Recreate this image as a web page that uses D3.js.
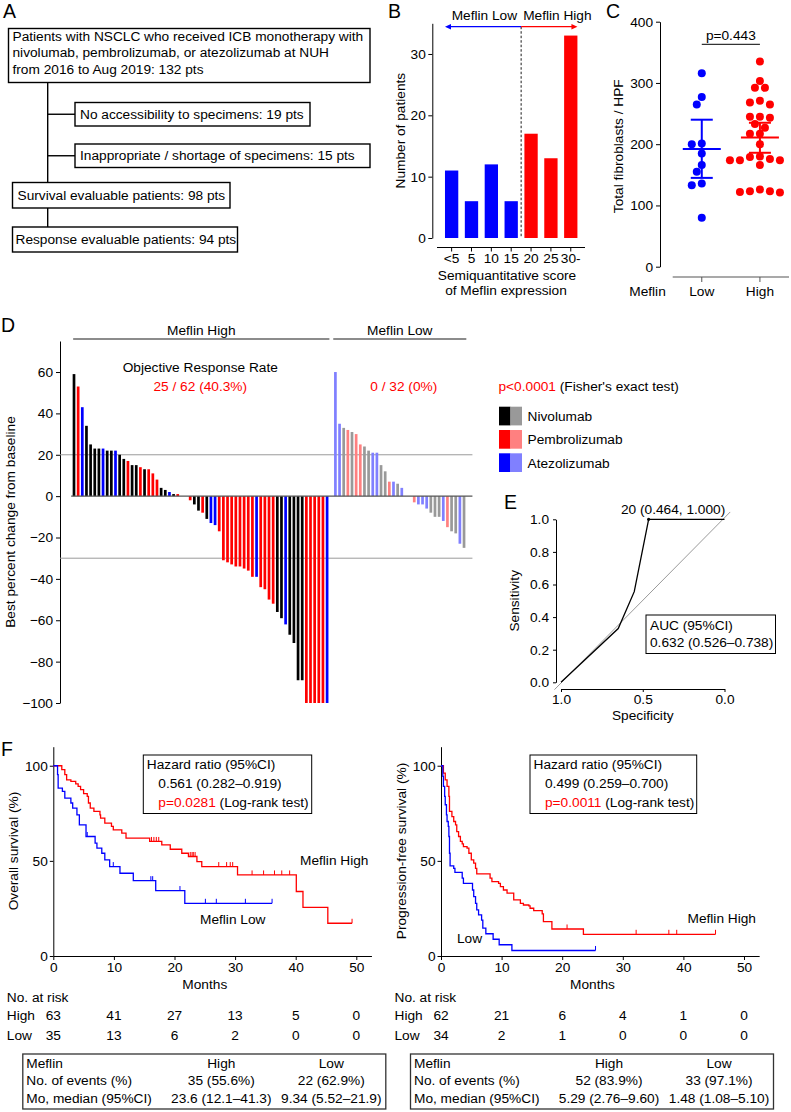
<!DOCTYPE html>
<html>
<head>
<meta charset="utf-8">
<script src="https://cdn.jsdelivr.net/npm/d3@7/dist/d3.min.js"></script>
<style>
 html, body { margin:0; padding:0; background:#fff; }
 svg { display:block; font-family:"Liberation Sans", Arial, Helvetica, sans-serif; }
</style>
</head>
<body>
<svg id="fig" width="791" height="1112" xmlns="http://www.w3.org/2000/svg"></svg>
<script>
// ================= DATA =================
// Panel A – flow chart
const flowMain = ["Patients with NSCLC who received ICB monotherapy with",
                  "nivolumab, pembrolizumab, or atezolizumab at NUH",
                  "from 2016 to Aug 2019: 132 pts"];
const flowExcluded = ["No accessibility to specimens: 19 pts",
                      "Inappropriate / shortage of specimens: 15 pts"];
const flowEvaluable = ["Survival evaluable patients: 98 pts",
                       "Response evaluable patients: 94 pts"];

// Panel B – score histogram
const scoreLabels = ["<5", "5", "10", "15", "20", "25", "30-"];
const scoreCounts = [11, 6, 12, 6, 17, 13, 33];
const scoreGroups = ["Low", "Low", "Low", "Low", "High", "High", "High"];
const bTicks = [0, 10, 20, 30];

// Panel C – fibroblasts per HPF
const fibroGroups = ["Low", "High"];
const fibroLow = [316, 277, 265, 201, 200, 185, 166, 155, 136, 133, 80];
const fibroHigh = [335, 303, 292, 292, 271, 268, 265, 245, 243, 245, 227, 233, 217, 217, 200,
                   180, 179, 174, 174, 174, 176, 166, 126, 123, 121, 122, 123];
const fibroMean = [192, 211];
const fibroLower = [145, 186];
const fibroUpper = [240, 235];
const cTicks = [0, 100, 200, 300, 400];

// Panel D – waterfall (N = nivolumab, P = pembrolizumab, A = atezolizumab)
const waterHigh = [59, 53, 43, 34, 25, 23, 23, 23, 22, 22, 22, 20, 18, 17, 15, 15, 14, 13, 13, 11,
                   8, 4, 3, 2, 1, 1, 0, 0, -2, -4, -7, -8, -11, -13, -14, -17, -31, -32, -33, -34,
                   -34, -35, -36, -39, -39, -44, -45, -50, -52, -56, -59, -62, -67, -71, -89, -89,
                   -100, -100, -100, -100, -100, -100];
const waterHighDrug = ["N","P","A","N","N","N","N","A","N","N","A","N","N","P","N","N","P","N","P","P",
                       "P","N","N","A","N","P","N","N","P","N","N","P","N","A","A","P","P","P","P","P",
                       "P","P","P","P","A","P","P","P","P","N","N","A","N","N","N","N",
                       "P","P","P","P","P","A"];
const waterLow = [60, 35, 33, 32, 31, 30, 25, 24, 22, 21, 21, 15, 12, 7, 7, 6, 4, 0, 0, -3,
                  -4, -4, -6, -8, -10, -10, -12, -15, -17, -18, -23, -25];
const waterLowDrug = ["A","A","N","P","N","P","P","N","N","A","A","N","N","P","A","N","A","N","N","P",
                      "A","A","A","N","N","N","A","P","N","N","A","N"];
const dTicks = [60, 40, 20, 0, -20, -40, -60, -80, -100];
const drugNames = ["Nivolumab", "Pembrolizumab", "Atezolizumab"];
const drugKeys = ["N", "P", "A"];

// Panel E – ROC
const rocSpec = [1.0, 0.650, 0.552, 0.464, 0.0];
const rocSens = [0.0, 0.330, 0.556, 1.000, 1.0];
const eYTicks = [0, 0.2, 0.4, 0.6, 0.8, 1.0];
const eXTicks = [1.0, 0.5, 0.0];

// Panel F – Kaplan–Meier [month, survival %]
const osHighSteps = [[1.4,97.9],[1.9,95.3],[2.2,92.6],[2.9,91.8],[3.7,90.5],[4.1,89.1],[4.5,87.4],
  [5.0,85.3],[5.6,83.9],[5.8,80.4],[6.1,77.7],[6.7,76.0],[7.7,74.2],[7.8,72.5],[8.5,69.8],[9.6,68.1],
  [9.9,66.3],[11.3,64.6],[12.0,61.9],[15.9,60.2],[17.9,58.4],[19.3,56.1],[21.2,54.0],[22.3,52.3],
  [23.7,49.6],[24.5,47.0],[30.4,42.6],[40.1,33.9],[41.2,25.6],[45.3,17.2]];
const osHighEnd = 49.3;
const osHighCensor = [16.2,16.6,17.0,17.4,22.6,22.9,23.1,23.4,27.3,28.6,29.2,29.6,32.8,34.7,36.5,37.7,39.0,49.3];
const osLowSteps = [[0.7,95.3],[0.8,88.2],[1.5,86.5],[1.9,83.0],[2.9,80.4],[3.2,77.7],[3.9,74.2],
  [4.3,68.9],[5.4,62.8],[6.9,59.3],[7.2,56.7],[8.0,54.0],[8.5,50.5],[9.3,47.0],[11.0,43.5],[13.2,39.6],
  [16.9,34.4],[21.7,27.7]];
const osLowEnd = 36.1;
const osLowCensor = [5.6, 9.9, 16.1, 16.4, 20.9, 25.1, 26.9, 31.7, 36.1];

const pfsHighSteps = [[0.4,96.1],[0.7,92.6],[1.0,89.1],[1.3,83.9],[1.4,76.0],[1.8,73.3],[2.1,70.7],
  [2.4,68.9],[2.6,65.4],[2.9,62.8],[3.2,60.2],[3.5,58.9],[3.7,57.5],[4.3,56.7],[4.6,54.0],[5.0,50.5],
  [5.4,48.8],[5.7,46.1],[5.9,43.2],[8.1,40.9],[8.4,39.1],[9.5,38.2],[9.8,36.5],[10.3,34.7],[10.9,33.0],
  [12.0,29.5],[13.1,27.7],[13.6,26.8],[14.5,26.3],[14.7,25.1],[15.3,23.9],[16.7,22.1],[16.9,18.1],
  [18.3,14.2],[23.5,11.4]];
const pfsHighEnd = 45.3;
const pfsHighCensor = [20.8, 32.2, 37.6, 38.9, 45.3];
const pfsLowSteps = [[0.3,94.4],[0.4,89.1],[0.6,83.9],[0.7,79.5],[0.9,74.2],[1.0,70.7],[1.2,68.1],
  [1.3,62.8],[1.4,54.0],[1.5,47.4],[2.1,46.1],[2.3,43.9],[3.5,40.9],[3.7,38.2],[5.2,34.7],[5.4,31.2],
  [5.7,27.7],[5.9,24.2],[6.2,21.6],[6.7,18.9],[6.9,14.6],[7.4,11.7],[8.6,8.8],[9.6,5.9],[11.7,2.9]];
const pfsLowEnd = 25.5;
const pfsLowCensor = [25.5];

const fXTicks = [0, 10, 20, 30, 40, 50];
const fYTicks = [0, 50, 100];
const riskMonths = [0, 10, 20, 30, 40, 50];
const osRiskHigh = [63, 41, 27, 13, 5, 0];
const osRiskLow = [35, 13, 6, 2, 0, 0];
const pfsRiskHigh = [62, 21, 6, 4, 1, 0];
const pfsRiskLow = [34, 2, 1, 0, 0, 0];

const osHR = ["Hazard ratio (95%CI)", "0.561 (0.282–0.919)", "p=0.0281", " (Log-rank test)"];
const pfsHR = ["Hazard ratio (95%CI)", "0.499 (0.259–0.700)", "p=0.0011", " (Log-rank test)"];
const osTableHead = ["Meflin", "High", "Low"];
const osTableEvents = ["No. of events (%)", "35 (55.6%)", "22 (62.9%)"];
const osTableMedian = ["Mo, median (95%CI)", "23.6 (12.1–41.3)", "9.34 (5.52–21.9)"];
const pfsTableHead = ["Meflin", "High", "Low"];
const pfsTableEvents = ["No. of events (%)", "52 (83.9%)", "33 (97.1%)"];
const pfsTableMedian = ["Mo, median (95%CI)", "5.29 (2.76–9.60)", "1.48 (1.08–5.10)"];

// ================= DRAW =================
const svg = d3.select("#fig");
const FS = 13.7;
const RED = "#ff0000", BLUE = "#0000ff";

function label(g, x, y, s, o = {}) {
  const t = g.append("text").attr("x", x).attr("y", y)
    .attr("font-size", o.size || FS).attr("text-anchor", o.anchor || "start")
    .attr("fill", o.fill || "#000").text(s);
  if (o.rotate) t.attr("transform", `rotate(-90 ${x} ${y})`);
  return t;
}
function styleAxis(g) {
  g.attr("font-size", FS).attr("font-family", null);
  g.selectAll("text").attr("fill", "#000");
  g.selectAll("line,path").attr("stroke", "#000").attr("stroke-width", 1);
  return g;
}
function hline(g, x1, x2, y, stroke, w) {
  return g.append("line").attr("x1", x1).attr("x2", x2).attr("y1", y).attr("y2", y)
    .attr("stroke", stroke).attr("stroke-width", w);
}
function vline(g, x, y1, y2, stroke, w) {
  return g.append("line").attr("x1", x).attr("x2", x).attr("y1", y1).attr("y2", y2)
    .attr("stroke", stroke).attr("stroke-width", w);
}

// ---------- Panel A ----------
const gA = svg.append("g");
label(gA, 3, 18, "A", {size: 19.5});
const aBoxes = [
  {x: 8.5, y: 28.5, w: 361.5, h: 54, tx: 12.5, ty: [41.3, 57.4, 73.6], lines: flowMain},
  {x: 75, y: 102.5, w: 235, h: 23.5, tx: 80, ty: [118.8], lines: [flowExcluded[0]]},
  {x: 75, y: 144, w: 295, h: 23.5, tx: 80, ty: [160.3], lines: [flowExcluded[1]]},
  {x: 12.5, y: 182.5, w: 217.5, h: 25.5, tx: 17.5, ty: [199.9], lines: [flowEvaluable[0]]},
  {x: 12.5, y: 227, w: 225, h: 25, tx: 15.5, ty: [244.2], lines: [flowEvaluable[1]]}
];
aBoxes.forEach(b => {
  gA.append("rect").attr("x", b.x).attr("y", b.y).attr("width", b.w).attr("height", b.h)
    .attr("fill", "none").attr("stroke", "#000").attr("stroke-width", 1.4);
  b.lines.forEach((s, i) => label(gA, b.tx, b.ty[i], s));
});
vline(gA, 47.7, aBoxes[0].y + aBoxes[0].h, aBoxes[3].y, "#000", 1.4);
vline(gA, 47.7, aBoxes[3].y + aBoxes[3].h, aBoxes[4].y, "#000", 1.4);
hline(gA, 47.7, 75, aBoxes[1].y + aBoxes[1].h / 2, "#000", 1.4);
hline(gA, 47.7, 75, aBoxes[2].y + aBoxes[2].h / 2, "#000", 1.4);

// ---------- Panel B ----------
const gB = svg.append("g");
label(gB, 388, 17.5, "B", {size: 19.5});
const xB = d3.scaleBand().domain(scoreLabels).range([441.7, 580.7]).paddingInner(0.33).paddingOuter(0.165);
const yB = d3.scaleLinear().domain([0, 35]).range([238, 23.3]);
const axB = gB.append("g").attr("transform", "translate(432.3,0)")
  .call(d3.axisLeft(yB).tickValues(bTicks).tickSize(4).tickPadding(2.5).tickSizeOuter(0));
styleAxis(axB);
gB.selectAll("rect.bar").data(scoreCounts).join("rect").attr("class", "bar")
  .attr("x", (d, i) => xB(scoreLabels[i])).attr("width", xB.bandwidth())
  .attr("y", d => yB(d)).attr("height", d => yB(0) - yB(d))
  .attr("fill", (d, i) => scoreGroups[i] === "Low" ? BLUE : RED);
const bSplit = xB(scoreLabels[scoreGroups.indexOf("High")]) - xB.step() * xB.paddingInner() / 2;
const bLeft = xB(scoreLabels[0]), bRight = xB(scoreLabels[scoreLabels.length - 1]) + xB.bandwidth();
vline(gB, bSplit, 26.7, yB(0), "#000", 0.9).attr("stroke-dasharray", "2.5,2");
hline(gB, bLeft + 5, bSplit, 26.7, BLUE, 1.3);
hline(gB, bSplit, bRight - 5, 26.7, RED, 1.3);
gB.append("path").attr("d", `M${bLeft},26.7 l6,-2.7 v5.4 z`).attr("fill", BLUE);
gB.append("path").attr("d", `M${bRight},26.7 l-6,-2.7 v5.4 z`).attr("fill", RED);
label(gB, bSplit - 4, 19.5, "Meflin Low", {anchor: "end"});
label(gB, bSplit + 2, 19.5, "Meflin High");
// x axis
hline(gB, 437, 585, 247.5, "#000", 1);
scoreLabels.forEach(s => {
  const cx = xB(s) + xB.bandwidth() / 2;
  vline(gB, cx, 247.5, 251.5, "#000", 1);
  label(gB, cx, 262.5, s, {anchor: "middle"});
});
label(gB, 507, 279.5, "Semiquantitative score", {anchor: "middle"});
label(gB, 506, 295, "of Meflin expression", {anchor: "middle"});
label(gB, 405.5, (yB(0) + yB(35)) / 2, "Number of patients", {anchor: "middle", rotate: true});

// ---------- Panel C ----------
const gC = svg.append("g");
label(gC, 606, 18, "C", {size: 19.5});
const xC = d3.scalePoint().domain(fibroGroups).range([672.7, 789]).padding(0.5);
const yC = d3.scaleLinear().domain([0, 400]).range([266.7, 21.7]);
const axC = gC.append("g").attr("transform", "translate(660,0)")
  .call(d3.axisLeft(yC).tickValues(cTicks).tickSize(4).tickPadding(3).tickSizeOuter(0));
styleAxis(axC);
label(gC, 623.5, (yC(0) + yC(400)) / 2 + 2, "Total fibroblasts / HPF", {anchor: "middle", rotate: true});
hline(gC, 672.7, 789, 277, "#555", 1.2);
fibroGroups.forEach(gname => {
  vline(gC, xC(gname), 277, 282, "#555", 1);
  label(gC, xC(gname), 296, gname, {anchor: "middle"});
});
label(gC, 647.5, 296, "Meflin", {anchor: "middle"});
function swarm(vals, cx, yS, dx, minD) {
  const placed = [], res = new Array(vals.length);
  vals.map((v, i) => ({v, i})).sort((a, b) => b.v - a.v).forEach(p => {
    const y = yS(p.v);
    for (let k = 0; k < 30; k++) {
      const off = k === 0 ? 0 : (k % 2 === 1 ? -Math.ceil(k / 2) : Math.ceil(k / 2)) * dx;
      const x = cx + off;
      if (placed.every(q => Math.hypot(q.x - x, q.y - y) >= minD)) { placed.push({x, y}); res[p.i] = {x, y}; break; }
    }
  });
  return res;
}
[fibroLow, fibroHigh].forEach((vals, gi) => {
  const col = gi === 0 ? BLUE : RED;
  const pos = swarm(vals, xC(fibroGroups[gi]), yC, 5, 7.6);
  gC.selectAll(null).data(pos).join("circle").attr("cx", d => d.x).attr("cy", d => d.y)
    .attr("r", 4).attr("fill", col);
  const cx = xC(fibroGroups[gi]);
  hline(gC, cx - 19, cx + 19, yC(fibroMean[gi]), col, 2);
  vline(gC, cx, yC(fibroUpper[gi]), yC(fibroLower[gi]), col, 2);
  hline(gC, cx - 11, cx + 11, yC(fibroUpper[gi]), col, 2);
  hline(gC, cx - 11, cx + 11, yC(fibroLower[gi]), col, 2);
});
hline(gC, xC("Low"), xC("High"), 44.3, "#000", 1);
label(gC, (xC("Low") + xC("High")) / 2, 40, "p=0.443", {anchor: "middle"});

// ---------- Panel D ----------
const gD = svg.append("g");
label(gD, 1, 332, "D", {size: 19.5});
const nSlots = waterHigh.length + 1 + waterLow.length;
const xD = d3.scaleBand().domain(d3.range(nSlots)).range([71.93, 466.1]).paddingInner(0.35).paddingOuter(0.175);
const yD = d3.scaleLinear().domain([-100, 75]).range([703, 341]);
const dStep = xD.step();
const drugColor = {N: ["#000000", "#999999"], P: ["#ff0000", "#ff8080"], A: ["#0000ff", "#8080ff"]};
const axD = gD.append("g").attr("transform", "translate(60,0)")
  .call(d3.axisLeft(yD).tickValues(dTicks).tickSize(4).tickPadding(3).tickSizeOuter(0));
styleAxis(axD);
const lowStart = waterHigh.length + 1;
const lineEnd = xD(nSlots - 1) + dStep + 5.6;
hline(gD, 60, lineEnd, yD(20), "#9a9a9a", 1);
hline(gD, 60, lineEnd, yD(-30), "#9a9a9a", 1);
const wData = waterHigh.map((v, i) => ({v, slot: i, col: drugColor[waterHighDrug[i]][0]}))
  .concat(waterLow.map((v, j) => ({v, slot: lowStart + j, col: drugColor[waterLowDrug[j]][1]})));
gD.selectAll("rect.wb").data(wData).join("rect").attr("class", "wb")
  .attr("x", d => xD(d.slot)).attr("width", xD.bandwidth())
  .attr("y", d => yD(Math.max(0, d.v))).attr("height", d => Math.abs(yD(d.v) - yD(0)))
  .attr("fill", d => d.col);
hline(gD, xD(0) - 1.5, lineEnd, yD(0), "#555", 1.2);
// group headers
const hx1 = xD(0) + 0.5, hx2 = xD(waterHigh.length - 1) + dStep - 0.5;
const lx1 = xD(lowStart) - 0.8, lx2 = xD(nSlots - 1) + dStep - 0.5;
hline(gD, hx1, hx2, 339, "#666", 1.6);
hline(gD, lx1, lx2, 339, "#666", 1.6);
label(gD, (hx1 + hx2) / 2, 334.5, "Meflin High", {anchor: "middle"});
label(gD, (lx1 + lx2) / 2, 334.5, "Meflin Low", {anchor: "middle"});
label(gD, (hx1 + hx2) / 2 - 1, 371.8, "Objective Response Rate", {anchor: "middle"});
label(gD, (hx1 + hx2) / 2 - 1, 390.8, "25 / 62 (40.3%)", {anchor: "middle", fill: RED});
label(gD, (lx1 + lx2) / 2 + 4, 390.8, "0 / 32 (0%)", {anchor: "middle", fill: RED});
const pt = label(gD, 498.5, 390.8, "");
pt.append("tspan").attr("fill", RED).text("p<0.0001");
pt.append("tspan").attr("fill", "#000").text(" (Fisher's exact test)");
label(gD, 14.5, (yD(-100) + yD(75)) / 2, "Best percent change from baseline", {anchor: "middle", rotate: true});
// legend
drugKeys.forEach((k, i) => {
  const y0 = 406.7 + i * 23.3;
  gD.append("rect").attr("x", 499).attr("y", y0).attr("width", 11.5).attr("height", 18.7).attr("fill", drugColor[k][0]);
  gD.append("rect").attr("x", 510.5).attr("y", y0).attr("width", 11.5).attr("height", 18.7).attr("fill", drugColor[k][1]);
  label(gD, 527.5, y0 + 14.4, drugNames[i]);
});

// ---------- Panel E ----------
const gE = svg.append("g");
label(gE, 504, 508.5, "E", {size: 19.5});
const xE = d3.scaleLinear().domain([1, 0]).range([561, 724.5]);
const yE = d3.scaleLinear().domain([0, 1]).range([682.3, 519.3]);
const axEy = gE.append("g").attr("transform", "translate(556,0)")
  .call(d3.axisLeft(yE).tickValues(eYTicks).tickFormat(d3.format(".1f")).tickSize(3).tickPadding(4).tickSizeOuter(0));
styleAxis(axEy);
const axEx = gE.append("g").attr("transform", "translate(0,689)")
  .call(d3.axisBottom(xE).tickValues(eXTicks).tickFormat(d3.format(".1f")).tickSize(3).tickPadding(2.5).tickSizeOuter(0));
styleAxis(axEx);
gE.append("line").attr("x1", xE(1.04)).attr("y1", yE(-0.045)).attr("x2", xE(-0.035)).attr("y2", yE(1.045))
  .attr("stroke", "#9a9a9a").attr("stroke-width", 1);
gE.append("path").datum(rocSpec.map((s, i) => [s, rocSens[i]]))
  .attr("d", d3.line().x(d => xE(d[0])).y(d => yE(d[1])))
  .attr("fill", "none").attr("stroke", "#000").attr("stroke-width", 1.3);
const cut = rocSens.indexOf(1);
gE.append("circle").attr("cx", xE(rocSpec[cut])).attr("cy", yE(rocSens[cut])).attr("r", 1.6).attr("fill", "#000");
label(gE, 621, 513.5, "20 (0.464, 1.000)");
label(gE, 519.5, (yE(0) + yE(1)) / 2, "Sensitivity", {anchor: "middle", rotate: true});
label(gE, xE(0.5), 719.8, "Specificity", {anchor: "middle"});
gE.append("rect").attr("x", 646).attr("y", 615).attr("width", 129.5).attr("height", 38.5)
  .attr("fill", "#fff").attr("stroke", "#000").attr("stroke-width", 1);
label(gE, 650, 629.8, "AUC (95%CI)");
label(gE, 650, 647.3, "0.632 (0.526–0.738)");

// ---------- Panel F ----------
const gF = svg.append("g");
label(gF, 1, 755.5, "F", {size: 19.5});
function stepLevel(steps, t) { let s = 100; steps.forEach(([m, v]) => { if (m <= t) s = v; }); return s; }
function drawKM(cfg) {
  const g = svg.append("g");
  const xS = d3.scaleLinear().domain([0, 52.5]).range([cfg.x0, cfg.x0 + 52.5 * 6.06]);
  const yS = d3.scaleLinear().domain([0, 110]).range([956, 746.7]);
  const ay = g.append("g").attr("transform", `translate(${cfg.x0},0)`)
    .call(d3.axisLeft(yS).tickValues(fYTicks).tickSize(3.5).tickPadding(2).tickSizeOuter(0));
  styleAxis(ay);
  const ax = g.append("g").attr("transform", "translate(0,956)")
    .call(d3.axisBottom(xS).tickValues(fXTicks).tickSize(4).tickPadding(2.5).tickSizeOuter(0));
  styleAxis(ax);
  label(g, xS(25), 988.5, "Months", {anchor: "middle"});
  label(g, cfg.ylabX, 851, cfg.ylab, {anchor: "middle", rotate: true});
  cfg.curves.forEach(c => {
    const pts = [[0, 100]].concat(c.steps).concat([[c.end, c.steps[c.steps.length - 1][1]]]);
    g.append("path").datum(pts)
      .attr("d", d3.line().x(d => xS(d[0])).y(d => yS(d[1])).curve(d3.curveStepAfter))
      .attr("fill", "none").attr("stroke", c.color).attr("stroke-width", 1.3);
    c.censor.forEach(t => {
      const yy = yS(stepLevel(c.steps, t));
      vline(g, xS(t), yy - 4.5, yy, c.color, 1);
    });
  });
  cfg.labels.forEach(l => label(g, l.x, l.y, l.t));
  // hazard box
  g.append("rect").attr("x", cfg.box[0]).attr("y", 755).attr("width", cfg.box[1]).attr("height", 58.5)
    .attr("fill", "#fff").attr("stroke", "#000").attr("stroke-width", 1);
  label(g, cfg.box[0] + 3.5, 768.8, cfg.hr[0]);
  label(g, cfg.box[0] + 15, 788.2, cfg.hr[1]);
  const p = label(g, cfg.box[0] + 15, 807.2, "");
  p.append("tspan").attr("fill", RED).text(cfg.hr[2]);
  p.append("tspan").attr("fill", "#000").text(cfg.hr[3]);
  // numbers at risk
  label(g, cfg.x0 - 46.5, 1001.8, "No. at risk");
  label(g, cfg.x0 - 46.5, 1020.3, "High");
  label(g, cfg.x0 - 46.5, 1040.3, "Low");
  riskMonths.forEach((m, i) => {
    label(g, xS(m), 1020.3, cfg.riskHigh[i], {anchor: "middle"});
    label(g, xS(m), 1040.3, cfg.riskLow[i], {anchor: "middle"});
  });
  // summary table
  const tx = cfg.x0 - 30.5;
  g.append("rect").attr("x", tx).attr("y", 1054).attr("width", 363).attr("height", 55)
    .attr("fill", "none").attr("stroke", "#333").attr("stroke-width", 1.3);
  [cfg.table[0], cfg.table[1], cfg.table[2]].forEach((row, r) => {
    const yy = 1067.8 + r * 17.6;
    label(g, tx + 3.5, yy, row[0]);
    label(g, tx + 198.5, yy, row[1], {anchor: "middle"});
    label(g, tx + 308.5, yy, row[2], {anchor: "middle"});
  });
}
drawKM({
  x0: 53.3, ylab: "Overall survival (%)", ylabX: 17.5,
  curves: [
    {steps: osHighSteps, end: osHighEnd, censor: osHighCensor, color: RED},
    {steps: osLowSteps, end: osLowEnd, censor: osLowCensor, color: BLUE}
  ],
  labels: [{x: 300, y: 865.3, t: "Meflin High"}, {x: 200, y: 923.8, t: "Meflin Low"}],
  box: [143.3, 168.4], hr: osHR,
  riskHigh: osRiskHigh, riskLow: osRiskLow,
  table: [osTableHead, osTableEvents, osTableMedian]
});
drawKM({
  x0: 441, ylab: "Progression-free survival (%)", ylabX: 405.5,
  curves: [
    {steps: pfsHighSteps, end: pfsHighEnd, censor: pfsHighCensor, color: RED},
    {steps: pfsLowSteps, end: pfsLowEnd, censor: pfsLowCensor, color: BLUE}
  ],
  labels: [{x: 687.5, y: 923.3, t: "Meflin High"}, {x: 457, y: 943.3, t: "Low"}],
  box: [530, 166.7], hr: pfsHR,
  riskHigh: pfsRiskHigh, riskLow: pfsRiskLow,
  table: [pfsTableHead, pfsTableEvents, pfsTableMedian]
});
</script>
</body>
</html>
